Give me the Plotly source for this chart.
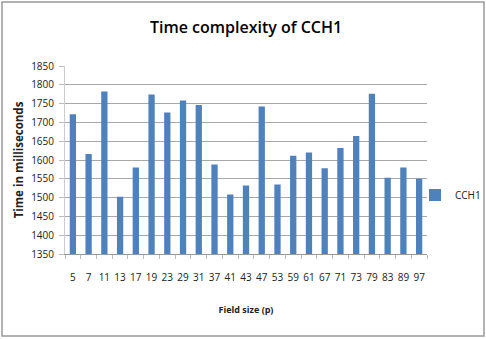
import plotly.graph_objects as go

categories = ["5", "7", "11", "13", "17", "19", "23", "29", "31", "37", "41", "43",
              "47", "53", "59", "61", "67", "71", "73", "79", "83", "89", "97"]
cch1 = [1722, 1616, 1782, 1502, 1580, 1774, 1726, 1758, 1746, 1588, 1508, 1532,
        1742, 1535, 1611, 1620, 1578, 1632, 1664, 1776, 1553, 1580, 1550]
y_ticks = [1350, 1400, 1450, 1500, 1550, 1600, 1650, 1700, 1750, 1800, 1850]

W, H = 486, 339
L, R, T, B = 65, 59, 66, 85
pw, ph = W - L - R, H - T - B

def px(x):
    return (x - L) / pw

def py(y):
    return (H - B - y) / ph

fig = go.Figure()
fig.add_trace(go.Bar(x=categories, y=cch1, name="CCH1", marker_color="#4F81BD",
                     marker_line_width=0))

fig.update_layout(
    width=W, height=H,
    margin=dict(l=L, r=R, t=T, b=B, autoexpand=False),
    paper_bgcolor="white", plot_bgcolor="white",
    bargap=0.6,
    title=dict(text="Time complexity of CCH1", x=0.5, xref="paper", xanchor="center",
               y=1 - 27 / H, yanchor="middle",
               font=dict(family="Open Sans", size=16, weight=600, color="black")),
    font=dict(family="Open Sans", color="#222"),
    showlegend=True,
    legend=dict(x=px(415), y=py(195), xanchor="left", yanchor="middle",
                font=dict(size=10), itemwidth=30, bgcolor="rgba(0,0,0,0)"),
    xaxis=dict(type="category", tickfont=dict(size=10), tickangle=0, ticks="outside",
               tickson="boundaries", ticklen=4, tickcolor="#BBBBBB", ticklabelstandoff=14,
               showgrid=False, showline=True, linecolor="#999", linewidth=1,
               title=dict(text="<b>Field size (p)</b>", font=dict(size=9), standoff=23)),
    yaxis=dict(range=[1350, 1850], tickvals=y_ticks, tickfont=dict(size=10),
               showgrid=True, gridcolor="#A8A8A8", gridwidth=1, zeroline=False,
               showline=True, linecolor="#CCCCCC", ticks="outside", ticklen=5,
               tickcolor="#BBBBBB", ticklabelstandoff=3,
               title=dict(text="<b>Time in milliseconds</b>", font=dict(size=11.5), standoff=5)),
    shapes=[dict(type="rect", xref="paper", yref="paper",
                 x0=px(2), x1=px(484), y0=py(336), y1=py(2),
                 line=dict(color="#999", width=1.5), fillcolor="rgba(0,0,0,0)", layer="below")],
)

fig.write_html("out.html", config={"displayModeBar": False},
               post_script="document.body.style.margin='0';document.body.style.overflow='hidden';")
